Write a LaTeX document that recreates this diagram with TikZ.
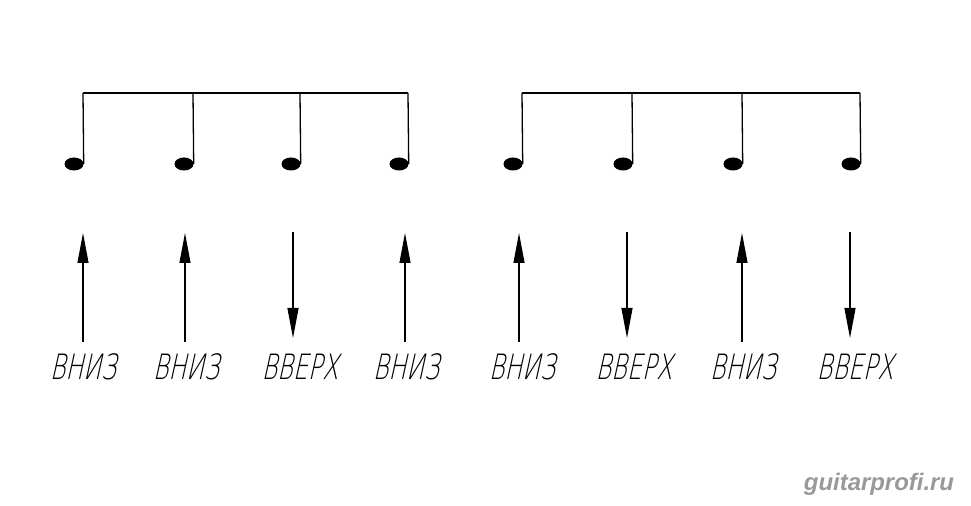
\documentclass[tikz,border=0pt]{standalone}
\usepackage{fontspec}
\newfontfamily\gostfont[FakeSlant=0.22,FakeStretch=0.68]{DejaVu Sans ExtraLight}
\newfontfamily\markfont{Liberation Sans}
\usetikzlibrary{arrows.meta,shapes.geometric}

\begin{document}
\begin{tikzpicture}[x=1bp, y=-1bp,
	notehead/.style={ellipse, fill=black, inner sep=0pt, minimum width=19bp, minimum height=13bp},
	strum/.style={line width=1.1bp, -{Triangle[length=30bp,width=11bp]}},
	word/.style={font=\gostfont\fontsize{35}{35}\selectfont, inner sep=0pt}]
	\useasboundingbox (0,0) rectangle (971,506);
	% eighth notes, two groups of four
	\foreach \i/\x in {1/83, 2/193, 3/300, 4/408, 5/522, 6/632, 7/742, 8/860}
	{
		\node[notehead] (n\i) at (\x-9,164) {};
		\coordinate (top\i) at (\x,93);
		\draw[line width=1.3bp] (n\i.east) -- (top\i);
	}
	\draw[line width=1.3bp] (top1) -- (top4);
	\draw[line width=1.3bp] (top5) -- (top8);
	% strokes and their names
	\foreach \i/\x/\from/\to/\lx/\txt in {1/83/342/233/83/ВНИЗ, 2/185/342/233/186/ВНИЗ, 3/293/232/338/300/ВВЕРХ, 4/405/342/233/406/ВНИЗ,
		5/519/342/233/522/ВНИЗ, 6/627/232/338/634/ВВЕРХ, 7/742/342/233/743/ВНИЗ, 8/850/232/338/855/ВВЕРХ}
	{
		\coordinate (s\i) at (\x,\from);
		\coordinate (e\i) at (\x,\to);
		\draw[strum] (s\i) -- (e\i);
		\node[word] (w\i) at (\lx,367) {\txt};
	}
	\node[font=\markfont\bfseries\itshape\fontsize{24}{24}\selectfont, text=black!40] (site) at (879,484) {guitarprofi.ru};
\end{tikzpicture}
\end{document}
